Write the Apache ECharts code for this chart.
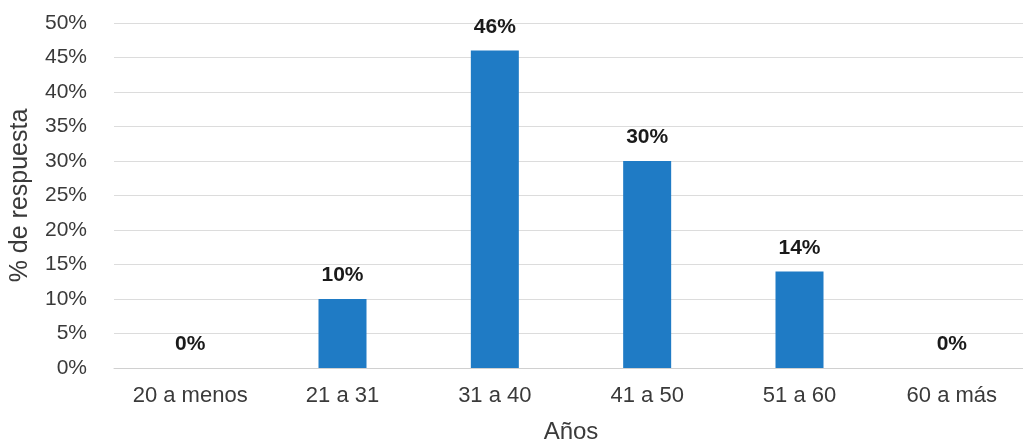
<!DOCTYPE html>
<html><head><meta charset="utf-8">
<script src="https://cdn.jsdelivr.net/npm/echarts@6/dist/echarts.min.js"></script>
<style>html,body{margin:0;padding:0;background:#fff}#c{width:1023px;height:447px}</style>
</head><body><div id="c"></div>
<script>
const categories = ['20 a menos', '21 a 31', '31 a 40', '41 a 50', '51 a 60', '60 a más'];
const values = [0, 10, 46, 30, 14, 0];
const yTicks = [0, 5, 10, 15, 20, 25, 30, 35, 40, 45, 50];

const chart = echarts.init(document.getElementById('c'));
chart.setOption({
  backgroundColor: '#fff',
  animation: false,
  textStyle: { fontFamily: 'Liberation Sans, Arial, sans-serif' },
  grid: { left: 114, top: 23, width: 914, height: 345, containLabel: false, outerBoundsMode: 'none' },
  xAxis: {
    type: 'category', data: categories,
    name: 'Años', nameLocation: 'middle', nameGap: 52,
    nameTextStyle: { fontSize: 24, color: '#3a3a3a' },
    axisLine: { show: true, lineStyle: { color: '#d0d0d0' } },
    axisTick: { show: false },
    axisLabel: { fontSize: 22, color: '#3a3a3a', margin: 17 }
  },
  yAxis: {
    type: 'value', min: yTicks[0], max: yTicks[yTicks.length - 1], interval: 5,
    name: '% de respuesta', nameLocation: 'middle', nameGap: 81, nameRotate: 90,
    nameTextStyle: { fontSize: 25, color: '#3a3a3a' },
    axisLine: { show: false }, axisTick: { show: false },
    axisLabel: { fontSize: 21, color: '#3a3a3a', margin: 27, formatter: v => v + '%' },
    splitLine: { lineStyle: { color: '#dcdcdc', width: 1 } }
  },
  series: [{
    type: 'bar', data: values, barWidth: 48,
    itemStyle: { color: '#1f7bc5' },
    label: { show: true, position: 'top', distance: 13, fontSize: 21, fontWeight: 'bold', color: '#1a1a1a', formatter: p => p.value + '%' }
  }]
});
</script></body></html>
